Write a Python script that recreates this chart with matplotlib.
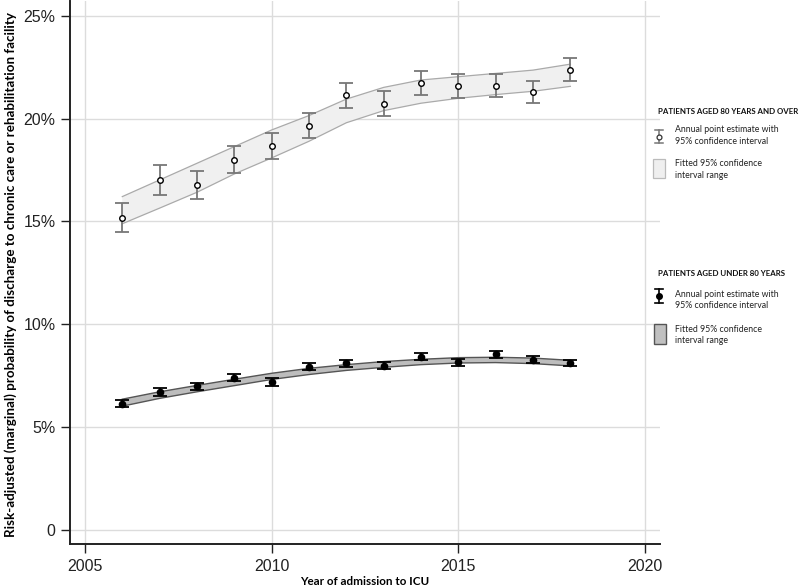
import matplotlib
matplotlib.use("Agg")
import matplotlib.pyplot as plt
from matplotlib.lines import Line2D
from matplotlib.patches import Rectangle
from matplotlib.ticker import FuncFormatter

years = [2006, 2007, 2008, 2009, 2010, 2011, 2012, 2013, 2014, 2015, 2016, 2017, 2018]

old_est = [15.19, 17.04, 16.78, 18.01, 18.69, 19.64, 21.13, 20.71, 21.73, 21.60, 21.60, 21.30, 22.36]
old_lo = [14.48, 16.30, 16.07, 17.35, 18.04, 19.05, 20.52, 20.11, 21.15, 21.02, 21.05, 20.76, 21.81]
old_hi = [15.90, 17.77, 17.46, 18.69, 19.32, 20.26, 21.75, 21.33, 22.33, 22.18, 22.15, 21.84, 22.93]
old_band_lo = [14.89, 15.65, 16.42, 17.31, 18.09, 18.90, 19.80, 20.39, 20.75, 20.99, 21.17, 21.33, 21.57]
old_band_hi = [16.21, 17.02, 17.83, 18.64, 19.45, 20.15, 20.95, 21.52, 21.88, 22.04, 22.20, 22.36, 22.65]

young_est = [6.13, 6.71, 6.99, 7.41, 7.20, 7.94, 8.11, 7.99, 8.43, 8.16, 8.54, 8.28, 8.12]
young_lo = [5.96, 6.52, 6.80, 7.23, 7.01, 7.77, 7.93, 7.85, 8.25, 7.99, 8.38, 8.14, 7.96]
young_hi = [6.34, 6.89, 7.17, 7.59, 7.39, 8.12, 8.27, 8.16, 8.59, 8.33, 8.70, 8.45, 8.27]
young_band_lo = [6.02, 6.40, 6.72, 7.02, 7.32, 7.56, 7.76, 7.91, 8.04, 8.12, 8.14, 8.09, 7.98]
young_band_hi = [6.36, 6.72, 7.03, 7.33, 7.62, 7.86, 8.04, 8.19, 8.30, 8.38, 8.40, 8.36, 8.25]

x_ticks = [2005, 2010, 2015, 2020]
y_ticks = [0, 5, 10, 15, 20, 25]

W, H = 800, 588
fig = plt.figure(figsize=(W / 100, H / 100), dpi=100)
ax = fig.add_axes([70 / W, 1 - 544 / H, (660 - 70) / W, (544 - 1) / H])

ax.set_xlim(2004.6, 2020.4)
ax.set_ylim(-0.68, 25.72)

ax.set_xticks(x_ticks)
ax.set_yticks(y_ticks)
ax.yaxis.set_major_formatter(FuncFormatter(lambda v, p: "0" if v == 0 else f"{v:.0f}%"))
ax.grid(True, color="#dcdcdc", linewidth=1.0)
ax.set_axisbelow(True)
for s in ["top", "right"]:
    ax.spines[s].set_visible(False)
for s in ["left", "bottom"]:
    ax.spines[s].set_color("#222222")
    ax.spines[s].set_linewidth(1.4)
ax.tick_params(axis="both", length=6.5, width=1.0, color="#222222", labelsize=11.5,
               labelcolor="#222222", pad=4)
for lab in ax.get_xticklabels() + ax.get_yticklabels():
    lab.set_fontfamily("Liberation Sans")

# bands
ax.fill_between(years, old_band_lo, old_band_hi, facecolor="#f0f0f0", edgecolor="none", zorder=2)
ax.plot(years, old_band_lo, color="#aaaaaa", lw=0.9, zorder=2.1)
ax.plot(years, old_band_hi, color="#aaaaaa", lw=0.9, zorder=2.1)
ax.fill_between(years, young_band_lo, young_band_hi, facecolor="#bdbdbd", edgecolor="none", zorder=2)
ax.plot(years, young_band_lo, color="#555555", lw=1.0, zorder=2.1)
ax.plot(years, young_band_hi, color="#555555", lw=1.0, zorder=2.1)

# error bars
old_err = [[e - l for e, l in zip(old_est, old_lo)], [h - e for e, h in zip(old_est, old_hi)]]
ax.errorbar(years, old_est, yerr=old_err, fmt="none", ecolor="#777777", elinewidth=1.3,
            capsize=5, capthick=1.3, zorder=3)
ax.plot(years, old_est, "o", ms=4, mfc="white", mec="black", mew=1.0, zorder=4)

young_err = [[e - l for e, l in zip(young_est, young_lo)], [h - e for e, h in zip(young_est, young_hi)]]
ax.errorbar(years, young_est, yerr=young_err, fmt="none", ecolor="black", elinewidth=1.3,
            capsize=5, capthick=1.3, zorder=3)
ax.plot(years, young_est, "o", ms=4.5, mfc="black", mec="black", zorder=4)

ax.set_xlabel("Year of admission to ICU", fontfamily="Lato", fontweight="bold",
              fontsize=8.4, labelpad=2)
ax.set_ylabel("Risk-adjusted (marginal) probability of discharge to chronic care or rehabilitation facility",
              fontfamily="Lato", fontweight="bold", fontsize=9.6)
ax.yaxis.set_label_coords((17 - 70) / 590, (544 - 275) / 543)


def fx(x):
    return x / W


def fy(y):
    return 1 - y / H


legend_font = dict(fontfamily="Lato", fontsize=6.3, color="#222222")
head_font = dict(fontfamily="Lato", fontsize=5.7, fontweight="bold", color="#111111")

# Legend: older
fig.text(fx(658), fy(112), "PATIENTS AGED 80 YEARS AND OVER", va="center", ha="left", **head_font)
fig.add_artist(Line2D([fx(659), fx(659)], [fy(130), fy(143)], color="#777777", lw=1.1, transform=fig.transFigure))
fig.add_artist(Line2D([fx(655), fx(663)], [fy(130), fy(130)], color="#777777", lw=1.1, transform=fig.transFigure))
fig.add_artist(Line2D([fx(655), fx(663)], [fy(143), fy(143)], color="#777777", lw=1.1, transform=fig.transFigure))
fig.add_artist(Line2D([fx(659)], [fy(136.5)], marker="o", ms=3.5, mfc="white", mec="#333333", mew=0.9,
                      transform=fig.transFigure))
fig.text(fx(675), fy(130), "Annual point estimate with", va="center", ha="left", **legend_font)
fig.text(fx(675), fy(141.5), "95% confidence interval", va="center", ha="left", **legend_font)
fig.add_artist(Rectangle((fx(653), fy(178)), fx(12), 19 / H, facecolor="#efefef", edgecolor="#bbbbbb",
                         lw=0.9, transform=fig.transFigure))
fig.text(fx(675), fy(163), "Fitted 95% confidence", va="center", ha="left", **legend_font)
fig.text(fx(675), fy(175), "interval range", va="center", ha="left", **legend_font)

# Legend: younger
fig.text(fx(658), fy(274), "PATIENTS AGED UNDER 80 YEARS", va="center", ha="left", **head_font)
fig.add_artist(Line2D([fx(659), fx(659)], [fy(289), fy(303)], color="black", lw=1.2, transform=fig.transFigure))
fig.add_artist(Line2D([fx(655), fx(663)], [fy(289), fy(289)], color="black", lw=1.2, transform=fig.transFigure))
fig.add_artist(Line2D([fx(655), fx(663)], [fy(303), fy(303)], color="black", lw=1.2, transform=fig.transFigure))
fig.add_artist(Line2D([fx(659)], [fy(296)], marker="o", ms=4, mfc="black", mec="black",
                      transform=fig.transFigure))
fig.text(fx(675), fy(294.5), "Annual point estimate with", va="center", ha="left", **legend_font)
fig.text(fx(675), fy(306), "95% confidence interval", va="center", ha="left", **legend_font)
fig.add_artist(Rectangle((fx(654), fy(344)), fx(12), 20 / H, facecolor="#c0c0c0", edgecolor="#555555",
                         lw=1.0, transform=fig.transFigure))
fig.text(fx(675), fy(329), "Fitted 95% confidence", va="center", ha="left", **legend_font)
fig.text(fx(675), fy(340.5), "interval range", va="center", ha="left", **legend_font)

fig.savefig("out.png", dpi=100)
